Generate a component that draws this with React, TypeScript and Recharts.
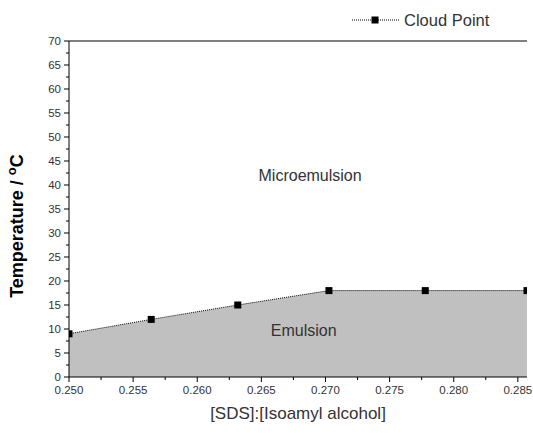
import { ComposedChart, Area, XAxis, YAxis, ReferenceDot, ReferenceLine } from "recharts";

// [SDS]:[Isoamyl alcohol] ratio and cloud point temperature (°C)
const ratios = [0.25, 0.25641, 0.26316, 0.27027, 0.27778, 0.285714];
const cloudPoint = [9, 12, 15, 18, 18, 18];

const xTicks = [
  0.25, 0.2525, 0.255, 0.2575, 0.26, 0.2625, 0.265, 0.2675, 0.27, 0.2725, 0.275, 0.2775, 0.28,
  0.2825, 0.285,
];
const yTicks = [
  0, 2.5, 5, 7.5, 10, 12.5, 15, 17.5, 20, 22.5, 25, 27.5, 30, 32.5, 35, 37.5, 40, 42.5, 45, 47.5,
  50, 52.5, 55, 57.5, 60, 62.5, 65, 67.5, 70,
];

// region labels, in data units
const regionLabels = [
  { text: "Microemulsion", x: 0.2688, y: 42 },
  { text: "Emulsion", x: 0.2683, y: 9.8 },
];

const data = ratios.map((r, i) => ({ ratio: r, temp: cloudPoint[i] }));

const FONT = '"Liberation Sans", Arial, sans-serif';
const TEXT = "#333";

function isMajorX(v: number) {
  return Math.round(v * 10000) % 50 === 0;
}

function XTick({ x, y, payload }: any) {
  const major = isMajorX(payload.value);
  return (
    <g>
      <line x1={x} y1={y} x2={x} y2={y + (major ? 5 : 3)} stroke="#000" />
      {major && (
        <text x={x} y={y + 17} textAnchor="middle" fontSize={11.5} fill={TEXT} fontFamily={FONT}>
          {payload.value.toFixed(3)}
        </text>
      )}
    </g>
  );
}

function YTick({ x, y, payload }: any) {
  const major = payload.value % 5 === 0;
  return (
    <g>
      <line x1={x - (major ? 5 : 3)} y1={y} x2={x} y2={y} stroke="#000" />
      {major && (
        <text x={x - 8} y={y + 4} textAnchor="end" fontSize={11.5} fill={TEXT} fontFamily={FONT}>
          {payload.value}
        </text>
      )}
    </g>
  );
}

function SquareDot({ cx, cy }: any) {
  if (cx == null || cy == null) return null;
  return <rect x={cx - 3.5} y={cy - 3.5} width={7} height={7} fill="#000" />;
}

function YLabel({ viewBox }: any) {
  const cx = 23;
  const cy = viewBox.y + viewBox.height / 2 + 17;
  return (
    <text
      transform={`translate(${cx},${cy}) rotate(-90)`}
      textAnchor="middle"
      fontSize={18}
      fontWeight="bold"
      fill="#000"
      fontFamily={FONT}
    >
      Temperature /{" "}
      <tspan fontSize={13} dy={-7}>
        o
      </tspan>
      <tspan dy={7}>C</tspan>
    </text>
  );
}

function CloudLegend() {
  return (
    <svg width={160} height={24} style={{ display: "block" }}>
      <line x1={2} y1={12} x2={50} y2={12} stroke="#000" strokeDasharray="1 1" />
      <rect x={21.5} y={8.5} width={7} height={7} fill="#000" />
      <text x={54} y={17.5} fontSize={16.5} fill={TEXT} fontFamily={FONT}>
        Cloud Point
      </text>
    </svg>
  );
}

export default function App() {
  return (
    <div style={{ position: "absolute", left: 0, top: 0, width: 533, height: 433, background: "#fff" }}>
      <div style={{ position: "absolute", left: 350, top: 8 }}>
        <CloudLegend />
      </div>
      <ComposedChart
        width={533}
        height={433}
        data={data}
        margin={{ top: 41, right: 6, bottom: 0, left: 9 }}
      >
        <Area
          type="linear"
          dataKey="temp"
          xAxisId="x"
          yAxisId="y"
          stroke="#000"
          strokeWidth={1}
          strokeDasharray="1 1"
          fill="#c0c0c0"
          fillOpacity={1}
          dot={<SquareDot />}
          activeDot={false}
          isAnimationActive={false}
        />
        <XAxis
          xAxisId="x"
          dataKey="ratio"
          type="number"
          domain={[0.25, 0.285714]}
          ticks={xTicks}
          interval={0}
          tickSize={0}
          tickMargin={0}
          tickLine={false}
          tick={<XTick />}
          axisLine={{ stroke: "#000" }}
          height={56}
          allowDataOverflow
          label={{
            value: "[SDS]:[Isoamyl alcohol]",
            position: "insideBottom",
            offset: 14,
            fontSize: 17,
            fill: TEXT,
            fontFamily: FONT,
          }}
        />
        <YAxis
          yAxisId="y"
          type="number"
          domain={[0, 70]}
          ticks={yTicks}
          interval={0}
          tickSize={0}
          tickMargin={0}
          tickLine={false}
          tick={<YTick />}
          axisLine={{ stroke: "#000" }}
          width={60}
          label={<YLabel />}
        />
        <YAxis
          yAxisId="right"
          orientation="right"
          domain={[0, 70]}
          tick={false}
          tickLine={false}
          axisLine={{ stroke: "#000" }}
          width={0}
        />
        <ReferenceLine xAxisId="x" yAxisId="y" y={70} stroke="#000" strokeOpacity={1} />
        {regionLabels.map((l) => (
          <ReferenceDot
            key={l.text}
            xAxisId="x"
            yAxisId="y"
            x={l.x}
            y={l.y}
            r={0}
            stroke="none"
            label={{ value: l.text, position: "center", fontSize: 16, fill: TEXT, fontFamily: FONT }}
          />
        ))}
      </ComposedChart>
    </div>
  );
}
